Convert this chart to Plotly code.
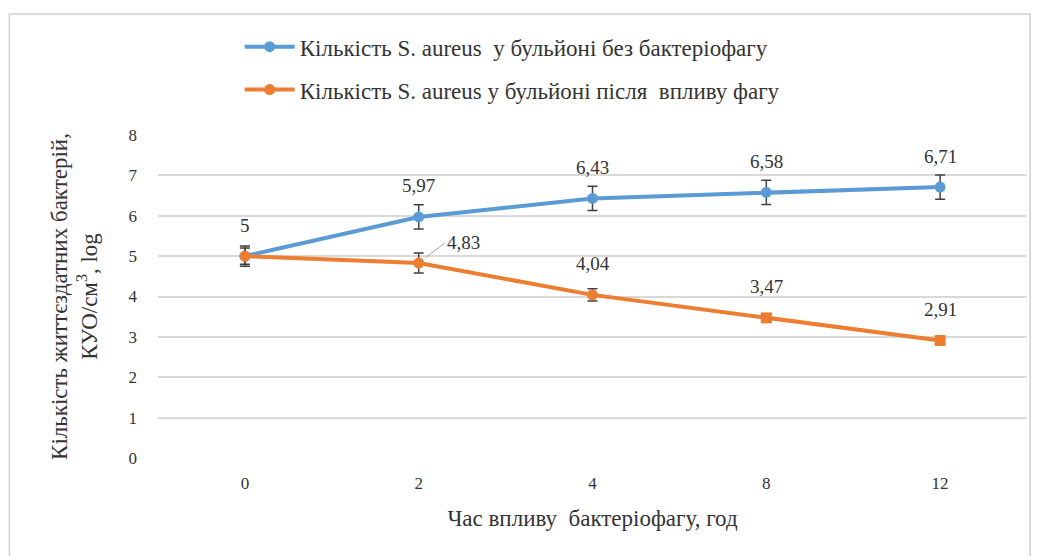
import plotly.graph_objects as go

categories = ["0", "2", "4", "8", "12"]
control = [5.0, 5.97, 6.43, 6.58, 6.71]
control_err = [0.25, 0.3, 0.3, 0.3, 0.3]
phage = [5.0, 4.83, 4.04, 3.47, 2.91]
phage_err = [0.2, 0.25, 0.15, 0.1, 0.05]
y_ticks = [0, 1, 2, 3, 4, 5, 6, 7, 8]

name1 = "Кількість S. aureus  у бульйоні без бактеріофагу"
name2 = "Кількість S. aureus у бульйоні після  впливу фагу"
blue = "#5b9bd5"
orange = "#ed7d31"
font = "Times New Roman, Liberation Serif, serif"
txt = "#333333"

fig = go.Figure()
fig.add_trace(go.Scatter(
    x=categories, y=control, name=name1, mode="lines+markers",
    line=dict(color=blue, width=4), marker=dict(size=11, color=blue, symbol="circle"),
    error_y=dict(type="data", array=control_err, color="#404040", thickness=1.5, width=5),
    legendgroup="a",
))
fig.add_trace(go.Scatter(
    x=categories, y=phage, name=name2, mode="lines+markers",
    line=dict(color=orange, width=4),
    marker=dict(size=11, color=orange, symbol=["circle", "circle", "circle", "square", "square"]),
    error_y=dict(type="data", array=phage_err, color="#404040", thickness=1.5, width=5),
    legendgroup="b",
))

def fmt(v):
    s = f"{v:g}"
    return s.replace(".", ",")

lab_size = 19
for i, v in enumerate(control):
    fig.add_annotation(x=i, y=v, text=fmt(v), showarrow=False, yshift=31,
                       font=dict(family=font, size=lab_size, color=txt))
for i, v in enumerate(phage):
    if i == 0:
        continue
    if i == 1:
        fig.add_annotation(x=i, y=v, text=fmt(v), showarrow=True, arrowhead=0,
                           arrowcolor="#a6a6a6", arrowwidth=1, ax=26, ay=-20,
                           xanchor="left", standoff=9,
                           font=dict(family=font, size=lab_size, color=txt))
    else:
        fig.add_annotation(x=i, y=v, text=fmt(v), showarrow=False, yshift=31,
                           font=dict(family=font, size=lab_size, color=txt))

fig.add_shape(type="rect", xref="paper", yref="paper", x0=-0.171, x1=1.0035, y0=-0.35, y1=1.3746,
              line=dict(color="#d0d0d0", width=1.5))

fig.update_layout(
    width=1048, height=556,
    margin=dict(l=150, r=29, t=127, b=106),
    paper_bgcolor="white", plot_bgcolor="white",
    font=dict(family=font, size=17, color=txt),
    showlegend=True,
    legend=dict(x=0.094, y=1.34, xanchor="left", yanchor="top",
                font=dict(family=font, size=23, color=txt),
                tracegroupgap=10, itemwidth=50, bgcolor="rgba(0,0,0,0)"),
    xaxis=dict(type="category", range=[-0.5, 4.5], showgrid=False, showline=False,
               automargin=False, ticklabelstandoff=13,
               ticks="", tickfont=dict(family=font, size=17, color=txt),
               title=dict(text="Час впливу  бактеріофагу, год",
                          font=dict(family=font, size=23, color=txt), standoff=17)),
    yaxis=dict(range=[0, 8], tickvals=y_ticks, showgrid=True, gridcolor="#d9d9d9", gridwidth=1.5,
               zeroline=False, showline=False, ticks="", ticklabelstandoff=20,
               automargin=False,
               tickfont=dict(family=font, size=17, color=txt),
               title=dict(text="Кількість життєздатних бактерій,<br>КУО/см<sup>3</sup>, log",
                          font=dict(family=font, size=23, color=txt), standoff=24)),
)

fig.write_html("out.html")
